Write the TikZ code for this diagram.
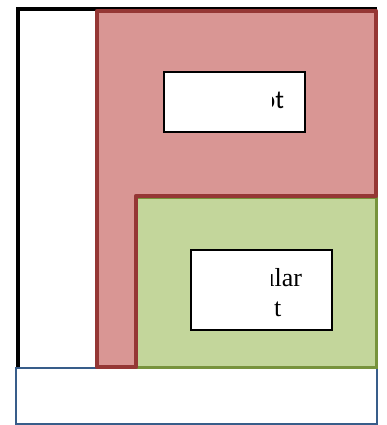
\documentclass[tikz,border=0pt]{standalone}
\usepackage{fontspec}
\setmainfont{Liberation Serif}
\newfontfamily\calib{Carlito}
\definecolor{redfill}{HTML}{D99694}
\definecolor{redline}{HTML}{953735}
\definecolor{greenfill}{HTML}{C3D69B}
\definecolor{greenline}{HTML}{77933C}
\definecolor{blueline}{HTML}{385D8A}
\begin{document}
\begin{tikzpicture}[x={(1pt,0)},y={(0,-1pt)},
  innerbox/.style={draw=black,line width=1.2pt,fill=white},
  serif/.style={font=\fontsize{26}{30}\selectfont,inner sep=0pt,anchor=base west},
  sans/.style={font=\calib\fontsize{26}{30}\selectfont,inner sep=0pt,anchor=base west}]
\useasboundingbox (0,0) rectangle (386,425);
% outer black frame
\draw[black,line width=4pt] (18,9) rectangle (375,424);
% bottom blue box
\draw[blueline,line width=2.2pt,fill=white] (16,368) rectangle (377,424);
% green panel
\draw[greenline,line width=3pt,fill=greenfill] (135,197) rectangle (376,367);
% red L panel
\draw[redline,line width=4.5pt,fill=redfill,line join=round]
  (97,11) -- (376,11) -- (376,196) -- (136,196) -- (136,367) -- (97,367) -- cycle;
% top text box
\draw[innerbox] (164,72) rectangle (305,132);
\node[draw=none,minimum width=141pt,minimum height=60pt,inner sep=0pt,anchor=north west] (topbox) at (164,72) {};
\begin{scope}
  \clip (272,73) rectangle (304,131);
  \node[sans] (toptext) at (261.5,108) {ot};
\end{scope}
% green inner box
\draw[innerbox] (191,250) rectangle (332,330);
\node[draw=none,minimum width=141pt,minimum height=80pt,inner sep=0pt,anchor=north west] (greenbox) at (191,250) {};
\begin{scope}
  \clip (271.6,251) rectangle (331,329);
  \node[serif] (gtext1) at (261.5,286) {ular};
  \node[serif] (gtext2) at (274,316) {t};
\end{scope}
\end{tikzpicture}
\end{document}
